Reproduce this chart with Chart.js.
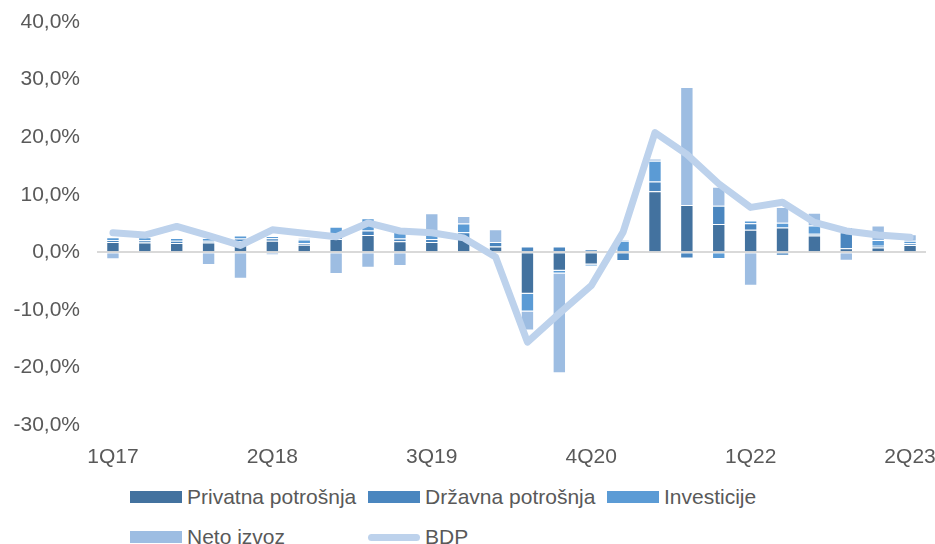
<!DOCTYPE html>
<html lang="sr">
<head>
<meta charset="utf-8">
<title>Doprinosi rastu BDP</title>
<script src="https://cdn.jsdelivr.net/npm/chart.js@4.4.1/dist/chart.umd.min.js"></script>
<style>
  html, body { margin: 0; padding: 0; background: #fff; overflow: hidden; }
  body { width: 935px; height: 544px; position: relative; font-family: 'Liberation Sans', Arial, sans-serif; }
  #okvir { position: absolute; left: 0; top: 0; width: 935px; height: 470px; }
  #legenda {
    position: absolute; left: 130px; top: 484px;
    display: grid; grid-template-columns: 238px 239px 200px; row-gap: 15px;
    font-size: 21px; color: #595959;
  }
  .stavka { display: flex; align-items: center; height: 25px; white-space: nowrap; }
  .znak { width: 52px; height: 12px; margin-right: 5px; }
  .linija { height: 7px; border-radius: 4px; margin-top: 1px; }
</style>
</head>
<body>
<div id="okvir"><canvas id="grafik"></canvas></div>
<div id="legenda"></div>

<script>
  // kvartali 1Q17 - 2Q23
  const kvartali = [
    '1Q17', '2Q17', '3Q17', '4Q17',
    '1Q18', '2Q18', '3Q18', '4Q18',
    '1Q19', '2Q19', '3Q19', '4Q19',
    '1Q20', '2Q20', '3Q20', '4Q20',
    '1Q21', '2Q21', '3Q21', '4Q21',
    '1Q22', '2Q22', '3Q22', '4Q22',
    '1Q23', '2Q23'
  ];

  // doprinosi rastu, procentni poeni
  const privatnaPotrosnja = [1.8, 1.7, 1.6, 1.7, 1.9, 2.0, 1.3, 2.3, 3.0, 1.9, 1.8, 2.3, 1.0,
                             -7.2, -3.2, -2.1, 0.0, 10.6, 8.2, 4.9, 3.9, 4.3, 2.9, 0.7, 0.85, 1.25];
  const drzavnaPotrosnja  = [0.3, 0.4, 0.4, 0.3, 0.5, 0.45, 0.3, 0.7, 0.8, 0.5, 0.5, 1.2, 0.8,
                             1.0, 1.0, 0.5, -1.5, 1.7, -1.1, 3.2, 1.15, -0.6, 0.3, 2.8, 0.3, 0.3];
  const investicije       = [0.5, 0.5, 0.5, 0.5, 0.5, 0.4, 0.6, 1.45, 2.1, 1.8, 1.0, 1.5, 0.0,
                             -3.1, -0.5, -0.35, 2.0, 3.6, 0.0, -1.15, 0.45, 0.85, 1.45, 0.9, 1.0, 0.45];
  const netoIzvoz         = [-1.2, 0.1, 0.0, -2.2, -4.6, -0.5, 0.3, -3.75, -2.7, -2.4, 3.5, 1.3, 2.2,
                             -3.3, -17.3, 0.0, 0.2, 0.4, 20.5, 3.3, -5.8, 2.7, 2.2, -1.45, 2.5, 1.15];
  const bdp               = [3.4, 3.0, 4.5, 2.9, 1.2, 3.9, 3.3, 2.7, 5.1, 3.7, 3.4, 2.5, -0.8,
                             -15.6, -10.6, -5.8, 3.5, 20.8, 17.0, 11.9, 7.8, 8.7, 5.2, 3.7, 3.0, 2.6];

  const boje = {
    privatna: '#43729F',
    drzavna: '#4A86BF',
    investicije: '#5B9BD5',
    neto: '#9DBDE2',
    bdp: '#BDD2EC'
  };

  const sivaTekst = '#595959';
  Chart.defaults.font.family = "'Liberation Sans', Arial, sans-serif";
  Chart.defaults.font.size = 21;
  Chart.defaults.color = sivaTekst;

  function stub(naziv, podaci, boja) {
    return {
      type: 'bar',
      label: naziv,
      data: podaci,
      backgroundColor: boja,
      borderColor: 'rgba(255,255,255,0.35)',
      borderWidth: 1,
      stack: 'komponente',
      order: 2,
      categoryPercentage: 0.42,
      barPercentage: 1
    };
  }

  const skupovi = [
    stub('Privatna potrošnja', privatnaPotrosnja, boje.privatna),
    stub('Državna potrošnja', drzavnaPotrosnja, boje.drzavna),
    stub('Investicije', investicije, boje.investicije),
    stub('Neto izvoz', netoIzvoz, boje.neto),
    {
      type: 'line',
      label: 'BDP',
      data: bdp,
      borderColor: boje.bdp,
      backgroundColor: boje.bdp,
      borderWidth: 7,
      borderCapStyle: 'round',
      borderJoinStyle: 'round',
      pointRadius: 0,
      tension: 0,
      stack: 'bdp',
      order: 1
    }
  ];

  const config = {
    data: { labels: kvartali, datasets: skupovi },
    options: {
      responsive: true,
      maintainAspectRatio: false,
      animation: false,
      devicePixelRatio: 1,
      layout: { padding: { top: 22, right: 9, bottom: 0, left: 0 } },
      plugins: {
        legend: { display: false },
        tooltip: { enabled: false }
      },
      scales: {
        x: {
          stacked: true,
          offset: true,
          grid: { display: false },
          border: { display: false },
          ticks: {
            autoSkip: false,
            maxRotation: 0,
            padding: 12,
            callback: (v, i) => (i % 5 === 0 ? kvartali[i] : '')
          },
          afterFit: (s) => {
            s.height = 45;
            s.paddingLeft = 0;
            s.paddingRight = 0;
          }
        },
        y: {
          stacked: true,
          min: -30,
          max: 40,
          border: { display: false },
          grid: {
            drawTicks: false,
            lineWidth: 2,
            color: (c) => (c.tick && c.tick.value === 0 ? '#D9D9D9' : 'rgba(0,0,0,0)')
          },
          ticks: {
            stepSize: 10,
            padding: 17,
            callback: (v) => v.toFixed(1).replace('.', ',') + '%'
          },
          afterFit: (s) => {
            s.width = 97;
            s.paddingTop = 0;
            s.paddingBottom = 0;
          }
        }
      }
    }
  };

  window.addEventListener('DOMContentLoaded', () => {
    new Chart(document.getElementById('grafik'), config);

    // legenda u dva reda, kao u originalu
    const legenda = document.getElementById('legenda');
    skupovi.forEach((s) => {
      const stavka = document.createElement('div');
      stavka.className = 'stavka';
      const znak = document.createElement('span');
      znak.className = s.type === 'line' ? 'znak linija' : 'znak';
      znak.style.backgroundColor = s.type === 'line' ? s.borderColor : s.backgroundColor;
      const tekst = document.createElement('span');
      tekst.textContent = s.label;
      stavka.appendChild(znak);
      stavka.appendChild(tekst);
      legenda.appendChild(stavka);
    });
  });
</script>
</body>
</html>
